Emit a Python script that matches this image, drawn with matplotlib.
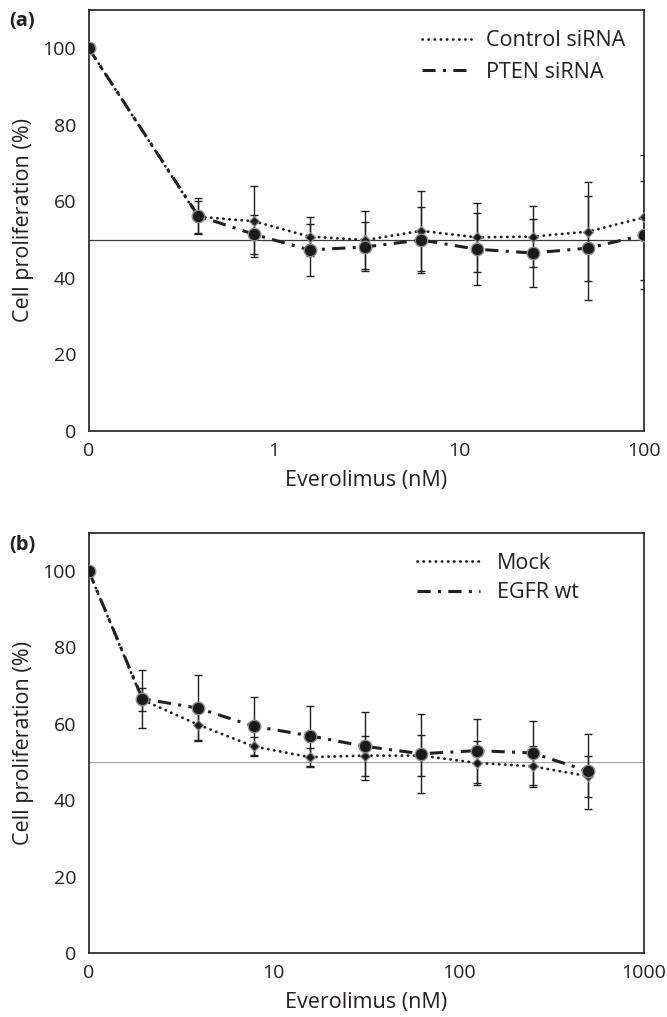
import matplotlib.pyplot as plt
from matplotlib.ticker import NullLocator

# everolimus concentrations (nM), 0 = untreated
conc_a = [0, 0.39, 0.78, 1.56, 3.125, 6.25, 12.5, 25, 50, 100]
control = [100, 56.0, 54.8, 50.8, 49.9, 52.3, 50.6, 50.8, 52.1, 55.8]
control_err = [0, 4.2, 9.3, 5.0, 7.5, 10.4, 9.1, 7.9, 12.9, 16.4]
pten = [100, 56.2, 51.4, 47.3, 48.1, 49.9, 47.5, 46.5, 47.8, 51.2]
pten_err = [0, 4.8, 5.1, 6.9, 6.4, 8.5, 9.4, 9.0, 13.6, 14.2]

conc_b = [0, 1.95, 3.9, 7.8, 15.6, 31.25, 62.5, 125, 250, 500]
mock = [100, 66.3, 59.8, 54.1, 51.3, 51.7, 51.7, 49.8, 48.9, 46.3]
mock_err = [0, 3.0, 4.0, 2.5, 2.5, 5.2, 5.4, 5.8, 5.3, 5.4]
egfr = [100, 66.6, 64.1, 59.4, 56.9, 54.1, 52.2, 53.0, 52.4, 47.6]
egfr_err = [0, 7.6, 8.6, 7.5, 7.9, 8.9, 10.4, 8.4, 8.3, 9.8]

ticks_a = [0, 1, 10, 100]
ticks_b = [0, 10, 100, 1000]

INK = '#231f20'
plt.rcParams['font.family'] = ['Open Sans', 'DejaVu Sans']
plt.rcParams['text.color'] = INK
plt.rcParams['axes.labelcolor'] = INK
plt.rcParams['xtick.color'] = INK
plt.rcParams['ytick.color'] = INK

FS = 14       # tick labels
LFS = 15.5    # axis labels and legend
DASHDOT = (0, (4.3, 2.4, 1.0, 2.4))
DOTTED = (0, (0.1, 2.1))


def draw_panel(ax, conc, xmin, xmax, ticks, s1, e1, s2, e2, names, ref_color,
               leg_anchor, handlelen, textpad, labelspacing):
    # the untreated sample sits at the left end of the log axis
    x = [xmin if c == 0 else c for c in conc]
    ax.set_xscale('log')
    ax.set_xlim(xmin, xmax)
    ax.set_ylim(0, 110)

    ax.axhline(50, color=ref_color, lw=0.9, zorder=1)

    for s, e in ((s1, e1), (s2, e2)):
        ax.errorbar(x[1:], s[1:], yerr=e[1:], fmt='none', ecolor=INK,
                    elinewidth=1.0, capsize=2.8, capthick=1.0, zorder=3)

    ax.plot(x, s1, color=INK, lw=2.0, linestyle=DOTTED,
            dash_capstyle='round', marker='D', ms=5.4, mfc='#1a1a1a',
            mec='#8c8c8c', mew=0.9, zorder=4, label=names[0])
    ax.plot(x, s2, color=INK, lw=2.2, linestyle=DASHDOT,
            marker='o', ms=9, mfc='#1a1a1a', mec='#8c8c8c', mew=1.0,
            zorder=5, label=names[1])

    tick_pos = [xmin if t == 0 else t for t in ticks]
    ax.set_xticks(tick_pos)
    ax.set_xticklabels([str(t) for t in ticks])
    ax.xaxis.set_minor_locator(NullLocator())
    ax.set_yticks([0, 20, 40, 60, 80, 100])
    ax.tick_params(length=0, labelsize=FS)
    ax.tick_params(axis='x', pad=8)
    ax.tick_params(axis='y', pad=9)

    for sp in ax.spines.values():
        sp.set_color(INK)
        sp.set_linewidth(1.2)

    ax.set_xlabel('Everolimus (nM)', fontsize=LFS, labelpad=7)
    ax.set_ylabel('Cell proliferation (%)', fontsize=LFS, labelpad=6)

    handles, labels = ax.get_legend_handles_labels()
    leg = ax.legend(handles, labels, loc='upper left', bbox_to_anchor=leg_anchor,
                    frameon=False, fontsize=LFS, borderpad=0, borderaxespad=0,
                    handlelength=handlelen, handletextpad=textpad,
                    labelspacing=labelspacing)
    for line in leg.get_lines():
        line.set_marker('None')


fig = plt.figure(figsize=(6.67, 10.17), dpi=100)
W, H = 667.0, 1017.0
ax_a = fig.add_axes([88.7 / W, 1 - 431 / H, 555.3 / W, 421 / H])
ax_b = fig.add_axes([88.7 / W, 1 - 953.3 / H, 555.3 / W, 420.6 / H])

draw_panel(ax_a, conc_a, 0.1, 100, ticks_a, control, control_err, pten, pten_err,
           ['Control siRNA', 'PTEN siRNA'], '#3a3a3a',
           (0.600, 0.952), 2.28, 0.71, 0.5)
draw_panel(ax_b, conc_b, 1, 1000, ticks_b, mock, mock_err, egfr, egfr_err,
           ['Mock', 'EGFR wt'], '#a8a8a8',
           (0.591, 0.952), 2.93, 0.77, 0.4)

fig.text(9 / W, 1 - 21 / H, '(a)', fontsize=14.5, fontweight='bold', va='center')
fig.text(9 / W, 1 - 545 / H, '(b)', fontsize=14.5, fontweight='bold', va='center')

fig.savefig('out.png', dpi=100)
